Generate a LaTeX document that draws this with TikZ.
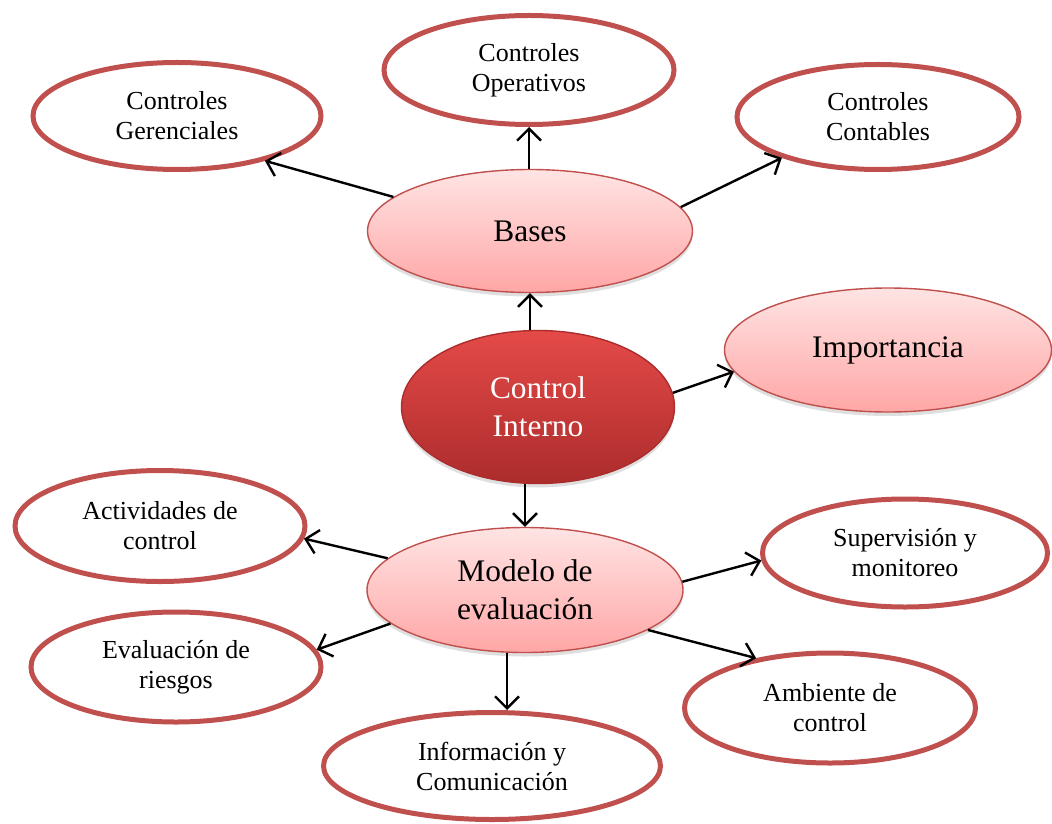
\documentclass[tikz,border=0pt]{standalone}
\usepackage{fontspec}
\setmainfont{Liberation Serif}
\usetikzlibrary{arrows.meta, shapes.geometric, shadows}
\definecolor{redline}{RGB}{192,80,77}
\definecolor{pinktop}{RGB}{255,228,228}
\definecolor{pinkbot}{RGB}{255,166,166}
\definecolor{coretop}{RGB}{228,74,72}
\definecolor{corebot}{RGB}{172,44,44}

\begin{document}
\begin{tikzpicture}[
  x=0.5pt, y=-0.5pt,
  leaf/.style = {ellipse, draw=redline, line width=2.5pt, fill=white,
                 inner sep=0pt, minimum width=145pt, minimum height=54.5pt,
                 align=center, font=\fontsize{13}{15}\selectfont},
  hub/.style  = {ellipse, draw=redline, line width=0.7pt,
                 top color=pinktop, bottom color=pinkbot, inner sep=0pt,
                 align=center, font=\fontsize{15.7}{19}\selectfont,
                 drop shadow={opacity=0.25, shadow xshift=0pt, shadow yshift=-2pt}},
  core/.style = {hub, draw=corebot, top color=coretop, bottom color=corebot,
                 text=white},
  arr/.style  = {-{Straight Barb[length=6pt, width=12pt]}, line width=1.2pt}
]
\useasboundingbox (0,0) rectangle (1052,823);

\node[leaf] (oper) at (529, 70) {Controles\\Operativos};
\node[leaf, minimum width=144pt, minimum height=53.5pt] (ger)  at (177,116) {Controles\\Gerenciales};
\node[leaf, minimum width=141pt, minimum height=52.5pt] (cont) at (878,117) {Controles\\Contables};
\node[hub, minimum width=162.5pt, minimum height=61.5pt] (bases) at (530,231) {Bases};
\node[core, minimum width=136.5pt, minimum height=76.5pt] (ci) at (538,407) {Control\\Interno};
\node[hub, minimum width=163.5pt, minimum height=62pt] (imp) at (888,350) {Importancia};
\node[hub, minimum width=158pt, minimum height=62.5pt] (modelo) at (525,590) {Modelo de\\evaluación};
\node[leaf, minimum height=55.5pt] (act)  at (160,526) {Actividades de\\control};
\node[leaf, minimum height=55pt]   (eval) at (176,667) {Evaluación de\\riesgos};
\node[leaf, minimum width=142.5pt, minimum height=54pt] (sup) at (905,553) {Supervisión y\\monitoreo};
\node[leaf, minimum width=145.5pt, minimum height=55pt] (amb) at (830,708) {Ambiente de\\control};
\node[leaf, minimum width=168.5pt, minimum height=53.5pt] (info) at (492,766) {Información y\\Comunicación};

\draw[arr] (bases.north -| oper.south) -- (oper.south);
\draw[arr] (bases.166) -- (ger.-27);
\draw[arr] (bases.9) -- (cont.203);
\draw[arr] (bases.south |- ci.north) -- (bases.south);
\draw[arr] (ci.6) -- (imp.188);
\draw[arr] (modelo.north |- ci.south) -- (modelo.north);
\draw[arr] (modelo.167) -- (act.-5);
\draw[arr] (modelo.194) -- (eval.7);
\draw[arr] (modelo.254) -- (modelo.254 |- info.north);
\draw[arr] (modelo.3) -- (sup.183);
\draw[arr] (modelo.-18) -- (amb.146);
\end{tikzpicture}
\end{document}
